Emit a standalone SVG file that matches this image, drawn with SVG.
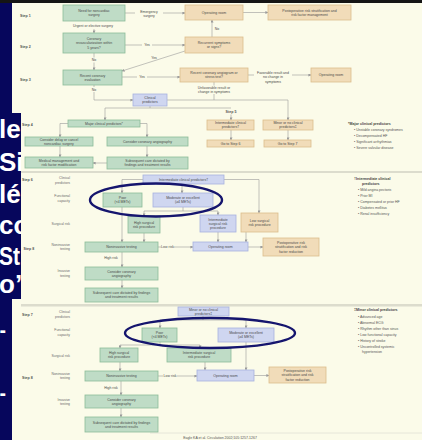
<svg xmlns="http://www.w3.org/2000/svg" width="422" height="440" viewBox="0 0 422 440">
<style>
text{font-family:"Liberation Sans",Arial,sans-serif}
.t{font-size:3.5px;fill:#4a4a4a;text-anchor:middle}
.l{font-size:3.4px;fill:#6a6a6a;text-anchor:end}
.s{font-size:3.6px;fill:#555;font-weight:bold}
.n{font-size:3.5px;fill:#555}
.nb{font-size:3.6px;fill:#444;font-weight:bold}
.g{fill:#bfdcc6;stroke:#8cbc98;stroke-width:0.8}
.tn{fill:#f1dcb9;stroke:#dcbd8c;stroke-width:0.8}
.b{fill:#cfd6f0;stroke:#a7b2de;stroke-width:0.8}
.c{fill:none;stroke:#9a9a9a;stroke-width:0.6}
.big{font-size:26px;font-weight:bold;fill:#fff}
.ell{fill:none;stroke:#15156e;stroke-width:2.4}
</style>
<defs>
<marker id="ar" markerWidth="3" markerHeight="3" refX="2.6" refY="1.5" orient="auto" markerUnits="userSpaceOnUse"><path d="M0,0 L3,1.5 L0,3 z" fill="#9a9a9a"/></marker>
<clipPath id="clipL"><rect x="0" y="0" width="21" height="440"/></clipPath>
</defs>
<rect x="0" y="0" width="422" height="440" fill="#fbfbe9"/>
<rect x="0" y="0" width="12" height="440" fill="#06065c"/>
<rect x="0" y="113" width="21" height="186" fill="#06065c"/>
<rect x="0" y="0" width="422" height="3" fill="#151515"/>
<g clip-path="url(#clipL)">
<text class="big" x="-1" y="138">le</text>
<text class="big" x="-1" y="171">Si</text>
<text class="big" x="-1" y="203">lé</text>
<text class="big" x="-1" y="234">co</text>
<text class="big" x="-1" y="265" textLength="21" lengthAdjust="spacingAndGlyphs">St</text>
<text class="big" x="-1" y="293">o’</text>
</g>
<text class="big" x="0" y="339" textLength="5.5" lengthAdjust="spacingAndGlyphs">–</text>
<text class="big" x="0" y="402" textLength="5.5" lengthAdjust="spacingAndGlyphs">–</text>
<rect x="21" y="171" width="401" height="2" fill="#dcdccd"/>
<rect x="21" y="304" width="401" height="2.5" fill="#dcdccd"/>
<line x1="150" y1="433" x2="422" y2="433" stroke="#e2e2d4" stroke-width="0.8"/>
<text class="n" x="220" y="438.5" text-anchor="middle" fill="#888">Eagle KA et al. Circulation 2002;105:1257-1267</text>

<g id="labels">
<text class="s" x="20" y="17">Step 1</text>
<text class="s" x="20" y="48">Step 2</text>
<text class="s" x="20" y="81">Step 3</text>
<text class="s" x="22" y="126">Step 4</text>
<text class="s" x="231" y="113" text-anchor="middle">Step 5</text>
<text class="s" x="22" y="180.5">Step 6</text>
<text class="s" x="23.5" y="250">Step 8</text>
<text class="s" x="22" y="316">Step 7</text>
<text class="s" x="22" y="378.5">Step 8</text>
<text class="l" x="70" y="179">Clinical</text><text class="l" x="70" y="183.5">predictors</text>
<text class="l" x="70" y="197">Functional</text><text class="l" x="70" y="201.5">capacity</text>
<text class="l" x="70" y="225">Surgical risk</text>
<text class="l" x="70" y="245.5">Noninvasive</text><text class="l" x="70" y="250">testing</text>
<text class="l" x="70" y="272">Invasive</text><text class="l" x="70" y="276.5">testing</text>
<text class="l" x="70" y="313">Clinical</text><text class="l" x="70" y="317.5">predictors</text>
<text class="l" x="70" y="331">Functional</text><text class="l" x="70" y="335.5">capacity</text>
<text class="l" x="70" y="356.5">Surgical risk</text>
<text class="l" x="70" y="374.5">Noninvasive</text><text class="l" x="70" y="379">testing</text>
<text class="l" x="70" y="400.5">Invasive</text><text class="l" x="70" y="405">testing</text>
</g>

<g id="connectors">
<line class="c" x1="125" y1="13" x2="135" y2="13"/>
<line class="c" x1="163" y1="13" x2="185" y2="13" marker-end="url(#ar)"/>
<line class="c" x1="243" y1="12.5" x2="268" y2="12.5" marker-end="url(#ar)"/>
<line class="c" x1="94" y1="29" x2="94" y2="33" marker-end="url(#ar)"/>
<line class="c" x1="125" y1="45" x2="142" y2="45"/>
<line class="c" x1="152" y1="45" x2="185" y2="45" marker-end="url(#ar)"/>
<line class="c" x1="212" y1="37" x2="212" y2="20" marker-end="url(#ar)"/>
<line class="c" x1="94" y1="53" x2="94" y2="57.5"/>
<line class="c" x1="94" y1="62.5" x2="94" y2="70" marker-end="url(#ar)"/>
<line class="c" x1="185" y1="51" x2="122" y2="71" marker-end="url(#ar)"/>
<line class="c" x1="122" y1="77" x2="137" y2="77"/>
<line class="c" x1="147" y1="77" x2="180" y2="77" marker-end="url(#ar)"/>
<line class="c" x1="248" y1="75" x2="254" y2="75"/>
<line class="c" x1="292" y1="75" x2="311" y2="75" marker-end="url(#ar)"/>
<line class="c" x1="214" y1="82" x2="214" y2="85.5"/>
<line class="c" x1="214" y1="94" x2="214" y2="100"/>
<line class="c" x1="94" y1="85" x2="94" y2="87"/>
<polyline class="c" points="94,92 94,100 133,100" marker-end="url(#ar)"/>
<polyline class="c" points="167,100 288,100 288,120" marker-end="url(#ar)"/>
<line class="c" x1="150" y1="106" x2="150" y2="108"/>
<line class="c" x1="105" y1="108" x2="231" y2="108"/>
<line class="c" x1="105" y1="108" x2="105" y2="120" marker-end="url(#ar)"/>
<line class="c" x1="231" y1="114.5" x2="231" y2="120" marker-end="url(#ar)"/>
<polyline class="c" points="68,123.5 60,123.5 60,137" marker-end="url(#ar)"/>
<polyline class="c" points="140,123.5 147,123.5 147,137" marker-end="url(#ar)"/>
<line class="c" x1="60" y1="146" x2="60" y2="157" marker-end="url(#ar)"/>
<line class="c" x1="147" y1="146" x2="147" y2="157" marker-end="url(#ar)"/>
<line class="c" x1="107" y1="163" x2="93" y2="163" marker-end="url(#ar)"/>
<line class="c" x1="231" y1="130" x2="231" y2="140" marker-end="url(#ar)"/>
<line class="c" x1="288" y1="130" x2="288" y2="140" marker-end="url(#ar)"/>

<polyline class="c" points="143,179.5 122,179.5 122,193" marker-end="url(#ar)"/>
<line class="c" x1="182" y1="184" x2="182" y2="193" marker-end="url(#ar)"/>
<polyline class="c" points="224,179.5 259,179.5 259,213" marker-end="url(#ar)"/>
<line class="c" x1="122" y1="207" x2="122" y2="242" marker-end="url(#ar)"/>
<line class="c" x1="183" y1="207" x2="183" y2="211"/>
<line class="c" x1="144" y1="211" x2="218" y2="211"/>
<line class="c" x1="144" y1="211" x2="144" y2="216" marker-end="url(#ar)"/>
<line class="c" x1="218" y1="211" x2="218" y2="215" marker-end="url(#ar)"/>
<line class="c" x1="144" y1="233" x2="144" y2="242" marker-end="url(#ar)"/>
<line class="c" x1="218" y1="232" x2="218" y2="242" marker-end="url(#ar)"/>
<line class="c" x1="246" y1="232" x2="246" y2="242" marker-end="url(#ar)"/>
<line class="c" x1="158" y1="247" x2="161" y2="247"/>
<line class="c" x1="174" y1="247" x2="193" y2="247" marker-end="url(#ar)"/>
<line class="c" x1="248" y1="247" x2="263" y2="247" marker-end="url(#ar)"/>
<line class="c" x1="122" y1="252" x2="122" y2="267" marker-end="url(#ar)"/>
<line class="c" x1="122" y1="280" x2="122" y2="288" marker-end="url(#ar)"/>

<line class="c" x1="203" y1="316" x2="203" y2="320"/>
<line class="c" x1="160" y1="320" x2="246" y2="320"/>
<line class="c" x1="160" y1="320" x2="160" y2="328" marker-end="url(#ar)"/>
<line class="c" x1="246" y1="320" x2="246" y2="328" marker-end="url(#ar)"/>
<line class="c" x1="160" y1="342" x2="160" y2="345"/>
<line class="c" x1="120" y1="345" x2="200" y2="345"/>
<line class="c" x1="120" y1="345" x2="120" y2="348" marker-end="url(#ar)"/>
<line class="c" x1="200" y1="345" x2="200" y2="348" marker-end="url(#ar)"/>
<line class="c" x1="246" y1="342" x2="246" y2="370" marker-end="url(#ar)"/>
<line class="c" x1="120" y1="362" x2="120" y2="371" marker-end="url(#ar)"/>
<line class="c" x1="205" y1="362" x2="205" y2="370" marker-end="url(#ar)"/>
<line class="c" x1="158" y1="376" x2="163" y2="376"/>
<line class="c" x1="177" y1="376" x2="197" y2="376" marker-end="url(#ar)"/>
<line class="c" x1="254" y1="375.5" x2="269" y2="375.5" marker-end="url(#ar)"/>
<line class="c" x1="121" y1="381" x2="121" y2="395" marker-end="url(#ar)"/>
<line class="c" x1="121" y1="408" x2="121" y2="417" marker-end="url(#ar)"/>
</g>

<g id="connector-labels">
<text class="t" x="149" y="13.2">Emergency</text><text class="t" x="149" y="17.4">surgery</text>
<text class="t" x="93" y="27">Urgent or elective surgery</text>
<text class="t" x="147" y="46.2">Yes</text>
<text class="t" x="217" y="30" text-anchor="start">No</text>
<text class="t" x="94" y="61.3">No</text>
<text class="t" x="154" y="58.5">Yes</text>
<text class="t" x="142" y="78.2">Yes</text>
<text class="t" x="273" y="74.1">Favorable result and</text><text class="t" x="273" y="78.3">no change in</text><text class="t" x="273" y="82.5">symptoms</text>
<text class="t" x="214" y="88.8">Unfavorable result or</text><text class="t" x="214" y="93">change in symptoms</text>
<text class="t" x="94" y="90.5">No</text>
<text class="t" x="167.5" y="248.2">Low risk</text>
<text class="t" x="111" y="258.8">High risk</text>
<text class="t" x="170" y="377.2">Low risk</text>
<text class="t" x="111" y="388.8">High risk</text>
</g>

<g id="n-need"><rect class="g" x="63" y="5" width="62" height="16"/><text class="t" x="94" y="12.2">Need for noncardiac</text><text class="t" x="94" y="16.4">surgery</text></g>
<g id="n-or1"><rect class="tn" x="185" y="5" width="58" height="15"/><text class="t" x="214" y="13.8">Operating room</text></g>
<g id="n-post1"><rect class="tn" x="268" y="5" width="83" height="15"/><text class="t" x="309.5" y="11.7">Postoperative risk stratification and</text><text class="t" x="309.5" y="15.9">risk factor management</text></g>
<g id="n-revasc"><rect class="g" x="63" y="33" width="62" height="20"/><text class="t" x="94" y="40.1">Coronary</text><text class="t" x="94" y="44.3">revascularization within</text><text class="t" x="94" y="48.5">5 years?</text></g>
<g id="n-recur"><rect class="tn" x="185" y="37" width="58" height="16"/><text class="t" x="214" y="44.2">Recurrent symptoms</text><text class="t" x="214" y="48.4">or signs?</text></g>
<g id="n-receval"><rect class="g" x="63" y="70" width="59" height="15"/><text class="t" x="92.5" y="76.7">Recent coronary</text><text class="t" x="92.5" y="80.9">evaluation</text></g>
<g id="n-recangio"><rect class="tn" x="180" y="68" width="68" height="14"/><text class="t" x="214" y="74.2">Recent coronary angiogram or</text><text class="t" x="214" y="78.4">stress test?</text></g>
<g id="n-or2"><rect class="tn" x="311" y="68" width="40" height="14"/><text class="t" x="331" y="76.3">Operating room</text></g>
<g id="n-clinpred"><rect class="b" x="133" y="94" width="34" height="12"/><text class="t" x="150" y="99.2">Clinical</text><text class="t" x="150" y="103.4">predictors</text></g>
<g id="n-major"><rect class="g" x="68" y="120" width="72" height="7"/><text class="t" x="104" y="124.8">Major clinical predictors*</text></g>
<g id="n-delay"><rect class="g" x="25" y="137" width="68" height="9"/><text class="t" x="59" y="140.7">Consider delay or cancel</text><text class="t" x="59" y="144.9">noncardiac surgery</text></g>
<g id="n-angio1"><rect class="g" x="107" y="137" width="81" height="9"/><text class="t" x="147.5" y="142.8">Consider coronary angiography</text></g>
<g id="n-medmgmt"><rect class="g" x="25" y="157" width="68" height="11"/><text class="t" x="59" y="161.7">Medical management and</text><text class="t" x="59" y="165.9">risk factor modification</text></g>
<g id="n-subseq1"><rect class="g" x="107" y="157" width="81" height="12"/><text class="t" x="147.5" y="162.2">Subsequent care dictated by</text><text class="t" x="147.5" y="166.4">findings and treatment results</text></g>
<g id="n-interm"><rect class="tn" x="207" y="120" width="47" height="10"/><text class="t" x="230.5" y="124.2">Intermediate clinical</text><text class="t" x="230.5" y="128.4">predictors†</text></g>
<g id="n-minor"><rect class="tn" x="263" y="120" width="50" height="10"/><text class="t" x="288" y="124.2">Minor or no clinical</text><text class="t" x="288" y="128.4">predictors‡</text></g>
<g id="n-go6"><rect class="tn" x="207" y="140" width="47" height="7"/><text class="t" x="230.5" y="144.8">Go to Step 6</text></g>
<g id="n-go7"><rect class="tn" x="264" y="140" width="47" height="7"/><text class="t" x="287.5" y="144.8">Go to Step 7</text></g>

<g id="note-major">
<text class="nb" x="348" y="124.5">*Major clinical predictors</text>
<text class="n" x="354" y="130.5">• Unstable coronary syndromes</text>
<text class="n" x="354" y="136.5">• Decompensated HF</text>
<text class="n" x="354" y="142.5">• Significant arrhythmias</text>
<text class="n" x="354" y="148.5">• Severe valvular disease</text>
</g>

<g id="n-interm2"><rect class="b" x="143" y="175" width="81" height="9"/><text class="t" x="183.5" y="180.8">Intermediate clinical predictors†</text></g>
<g id="n-poor1"><rect class="g" x="103" y="193" width="39" height="14"/><text class="t" x="122.5" y="199.2">Poor</text><text class="t" x="122.5" y="203.4">(&lt;4 METs)</text></g>
<g id="n-mod1"><rect class="b" x="153" y="193" width="60" height="14"/><text class="t" x="183" y="199.2">Moderate or excellent</text><text class="t" x="183" y="203.4">(≥4 METs)</text></g>
<g id="n-high1"><rect class="g" x="128" y="216" width="32" height="17"/><text class="t" x="144" y="223.7">High surgical</text><text class="t" x="144" y="227.9">risk procedure</text></g>
<g id="n-intsurg1"><rect class="b" x="200" y="215" width="36" height="17"/><text class="t" x="218" y="220.6">Intermediate</text><text class="t" x="218" y="224.8">surgical risk</text><text class="t" x="218" y="229">procedure</text></g>
<g id="n-low1"><rect class="tn" x="241" y="213" width="37" height="19"/><text class="t" x="259.5" y="221.7">Low surgical</text><text class="t" x="259.5" y="225.9">risk procedure</text></g>
<g id="n-nonin1"><rect class="g" x="85" y="242" width="73" height="10"/><text class="t" x="121.5" y="248.3">Noninvasive testing</text></g>
<g id="n-or3"><rect class="b" x="193" y="242" width="55" height="9"/><text class="t" x="220.5" y="247.8">Operating room</text></g>
<g id="n-post2"><rect class="tn" x="263" y="238" width="56" height="18"/><text class="t" x="291" y="244.1">Postoperative risk</text><text class="t" x="291" y="248.3">stratification and risk</text><text class="t" x="291" y="252.5">factor reduction</text></g>
<g id="n-angio2"><rect class="g" x="85" y="267" width="73" height="13"/><text class="t" x="121.5" y="272.7">Consider coronary</text><text class="t" x="121.5" y="276.9">angiography</text></g>
<g id="n-subseq2"><rect class="g" x="85" y="288" width="73" height="14"/><text class="t" x="121.5" y="294.2">Subsequent care dictated by findings</text><text class="t" x="121.5" y="298.4">and treatment results</text></g>

<g id="note-interm">
<text class="nb" x="354" y="179.5">†Intermediate clinical</text>
<text class="nb" x="362" y="185">predictors</text>
<text class="n" x="358" y="191">• Mild angina pectoris</text>
<text class="n" x="358" y="197">• Prior MI</text>
<text class="n" x="358" y="203">• Compensated or prior HF</text>
<text class="n" x="358" y="209">• Diabetes mellitus</text>
<text class="n" x="358" y="215">• Renal insufficiency</text>
</g>

<g id="n-minor2"><rect class="b" x="178" y="307" width="51" height="9"/><text class="t" x="203.5" y="310.7">Minor or no clinical</text><text class="t" x="203.5" y="314.9">predictors‡</text></g>
<g id="n-poor2"><rect class="g" x="142" y="328" width="35" height="14"/><text class="t" x="159.5" y="334.2">Poor</text><text class="t" x="159.5" y="338.4">(&lt;4 METs)</text></g>
<g id="n-mod2"><rect class="b" x="218" y="328" width="56" height="14"/><text class="t" x="246" y="334.2">Moderate or excellent</text><text class="t" x="246" y="338.4">(≥4 METs)</text></g>
<g id="n-high2"><rect class="g" x="100" y="348" width="38" height="14"/><text class="t" x="119" y="354.2">High surgical</text><text class="t" x="119" y="358.4">risk procedure</text></g>
<g id="n-intsurg2"><rect class="g" x="167" y="348" width="64" height="14"/><text class="t" x="199" y="354.2">Intermediate surgical</text><text class="t" x="199" y="358.4">risk procedure</text></g>
<g id="n-nonin2"><rect class="g" x="85" y="371" width="73" height="10"/><text class="t" x="121.5" y="377.3">Noninvasive testing</text></g>
<g id="n-or4"><rect class="b" x="197" y="370" width="57" height="11"/><text class="t" x="225.5" y="376.8">Operating room</text></g>
<g id="n-post3"><rect class="tn" x="269" y="367" width="57" height="16"/><text class="t" x="297.5" y="372.1">Postoperative risk</text><text class="t" x="297.5" y="376.3">stratification and risk</text><text class="t" x="297.5" y="380.5">factor reduction</text></g>
<g id="n-angio3"><rect class="g" x="85" y="395" width="73" height="13"/><text class="t" x="121.5" y="400.7">Consider coronary</text><text class="t" x="121.5" y="404.9">angiography</text></g>
<g id="n-subseq3"><rect class="g" x="85" y="417" width="73" height="15"/><text class="t" x="121.5" y="423.7">Subsequent care dictated by findings</text><text class="t" x="121.5" y="427.9">and treatment results</text></g>

<g id="note-minor">
<text class="nb" x="354" y="310.5">‡Minor clinical predictors</text>
<text class="n" x="358" y="318">• Advanced age</text>
<text class="n" x="358" y="324">• Abnormal ECG</text>
<text class="n" x="358" y="330">• Rhythm other than sinus</text>
<text class="n" x="358" y="336">• Low functional capacity</text>
<text class="n" x="358" y="342">• History of stroke</text>
<text class="n" x="358" y="348">• Uncontrolled systemic</text>
<text class="n" x="362" y="353">hypertension</text>
</g>

<g id="highlights">
<ellipse class="ell" cx="156" cy="200" rx="66" ry="16.5"/>
<ellipse class="ell" cx="210" cy="333" rx="85" ry="15"/>
</g>
</svg>
